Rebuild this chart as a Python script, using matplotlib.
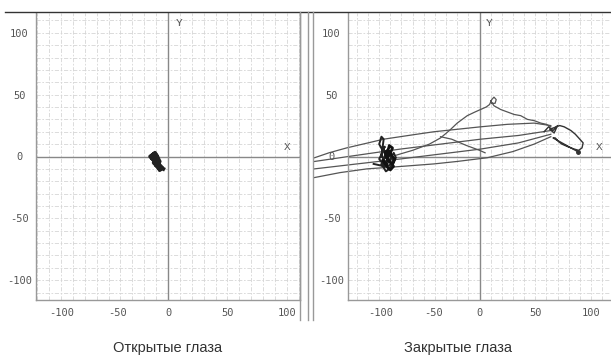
import numpy as np
import matplotlib
matplotlib.use("Agg")
import matplotlib.pyplot as plt
from matplotlib.lines import Line2D

# tick values / labels
ticks = [-100, -50, 0, 50, 100]
tick_labels = ["-100", "-50", "0", "50", "100"]
captions = ["Открытые глаза", "Закрытые глаза"]

# open eyes: small blob of the trace
open_x = [-13, -11, -9, -12, -15, -12, -10, -8, -11, -14, -11, -9, -7, -10, -12, -10, -8, -6, -8, -10, -7, -5, -7, -8, -4]
open_y = [1, 3, 0, -1, 0, 2, 1, -2, -3, -1, -4, -2, -4, -6, -5, -7, -6, -8, -9, -7, -10, -9, -11, -8, -10]

# closed eyes: long loops
top_x = [-148, -135, -119, -100, -86, -60, -41, -20, 1, 25, 49, 64]
top_y = [-1, 3, 7, 11, 14, 17.5, 20, 22, 24, 26, 27, 25]
bot_x = [64, 49, 30, 7, -20, -41, -70, -101, -125, -148]
bot_y = [16, 10, 4, -1, -4, -6, -8, -10, -13, -17]
mid1_x = [-148, -110, -71, -35, 1, 35, 64]
mid1_y = [-4, 1, 6, 10, 14, 17, 21]
mid2_x = [-148, -110, -71, -35, 1, 35, 64]
mid2_y = [-10, -6, -2, 2, 6, 11, 18]

# wandering line between the two clusters (small loop near the top)
wand_x = [-75, -60, -45, -35, -27, -20, -11, -4, 1, 6, 9, 11, 13, 15, 14, 11, 10, 13, 19, 25, 31, 37, 43, 49, 55, 60, 64]
wand_y = [1, 5, 10, 15, 21, 27, 33, 36, 38, 40, 42, 46, 48, 46, 43, 43, 45, 41, 38, 36, 34, 33, 30, 29, 27, 26, 24]
desc_x = [-35, -25, -12, 0, 5]
desc_y = [16, 14, 9, 5, 3]

# left cluster (closed eyes)
cl_x = [-88, -86, -88, -90, -87, -85, -88, -86, -84, -80, -78, -82, -84, -80, -77, -75, -79, -83, -86, -82, -78, -76, -80, -85, -88, -84, -79, -77, -81, -86, -90, -85, -95]
cl_y = [0, 14, 16, 10, 5, 8, 2, -3, 4, 8, 6, 0, -5, -2, 3, -1, -6, -8, -4, -10, -7, -3, 1, -1, -6, -12, -9, -4, 2, 5, -2, -8, -6]
cl2_x = [-83, -81, -78, -80, -83, -85, -82, -79, -76, -78, -82, -84, -81, -77, -80, -84, -87, -83]
cl2_y = [2, 9, 7, 3, -1, 3, 5, 1, -2, -6, -4, 0, -3, -8, -11, -7, -3, -6]

# right cluster (closed eyes)
rl_x = [58, 62, 66, 70, 67, 63, 66, 72, 76, 82, 86, 90, 93, 92, 89, 85, 79, 74, 71, 68, 66, 72, 78, 84, 88]
rl_y = [20, 24, 21, 25, 19, 22, 23, 25, 24, 21, 18, 14, 11, 7, 5, 6, 8, 10, 12, 15, 15, 12, 9, 6, 4]

W, H = 611, 363
fig = plt.figure(figsize=(W / 100, H / 100), dpi=100)


def box(l, t, r, b):
    return [l / W, 1 - b / H, (r - l) / W, (b - t) / H]


ax1 = fig.add_axes(box(36, 13, 300, 300))
ax2 = fig.add_axes(box(348, 13, 611, 300))

for ax, lim, xlab in [(ax1, 111, 100), (ax2, 118, 107)]:
    ax.set_xlim(-lim, lim)
    ax.set_ylim(-116, 116)
    ax.set_xticks(ticks, tick_labels)
    ax.set_yticks(ticks, tick_labels)
    ax.set_xticks(np.arange(-110, 111, 10), minor=True)
    ax.set_yticks(np.arange(-110, 111, 10), minor=True)
    ax.grid(which="both", color="#d6d6d6", lw=0.6, ls=(0, (5, 2, 2, 2)))
    ax.set_axisbelow(True)
    ax.tick_params(which="both", length=0)
    ax.tick_params(axis="x", pad=6, labelsize=7.5, labelcolor="#555")
    ax.tick_params(axis="y", pad=12, labelsize=7.5, labelcolor="#555")
    for lbl in ax.get_xticklabels() + ax.get_yticklabels():
        lbl.set_family("DejaVu Sans Mono")
    for lbl in ax.get_yticklabels():
        lbl.set_ha("center")
    for lbl, v in zip(ax.get_xticklabels(), ticks):
        if v < 0:
            lbl.set_ha("left")
    for s in ax.spines.values():
        s.set_color("#999")
        s.set_linewidth(1)
    ax.spines["top"].set_visible(False)
    ax.axhline(0, color="#888", lw=1, zorder=1)
    ax.axvline(0, color="#888", lw=1, zorder=1)
    ax.text(xlab, 8, "X", family="Liberation Mono", fontsize=8, color="#555", ha="center", va="center")
    ax.text(9, 108, "Y", family="Liberation Mono", fontsize=8, color="#555", ha="center", va="center")

ax2.spines["right"].set_visible(False)

ax1.plot(open_x, open_y, color="#222", lw=2.8, solid_joinstyle="round")

thin = dict(color="#555", lw=0.9, clip_on=False)
ax2.plot(top_x, top_y, **thin)
ax2.plot(bot_x, bot_y, **thin)
ax2.plot(mid1_x, mid1_y, **thin)
ax2.plot(mid2_x, mid2_y, **thin)
ax2.plot(wand_x, wand_y, **thin)
ax2.plot(desc_x, desc_y, **thin)
ax2.plot(cl_x, cl_y, color="#222", lw=1.4, clip_on=False)
ax2.plot(cl2_x, cl2_y, color="#111", lw=1.8, clip_on=False)
ax2.plot(rl_x, rl_y, color="#333", lw=1.0, clip_on=False)
ax2.plot(rl_x[-1:], rl_y[-1:], "o", color="#333", ms=2.5, clip_on=False)

# frame lines of the figure
fig.add_artist(Line2D([5 / W, 1], [1 - 12 / H, 1 - 12 / H], color="#333", lw=1))
for px in [300, 308, 313]:
    fig.add_artist(Line2D([px / W, px / W], [1 - 12 / H, 1 - 320 / H], color="#999", lw=1))

fig.text(168 / W, 1 - 348 / H, captions[0], ha="center", va="center", fontsize=10.5, family="Liberation Sans", color="#333")
fig.text(458 / W, 1 - 348 / H, captions[1], ha="center", va="center", fontsize=10.5, family="Liberation Sans", color="#333")

fig.savefig("out.png", dpi=100)
